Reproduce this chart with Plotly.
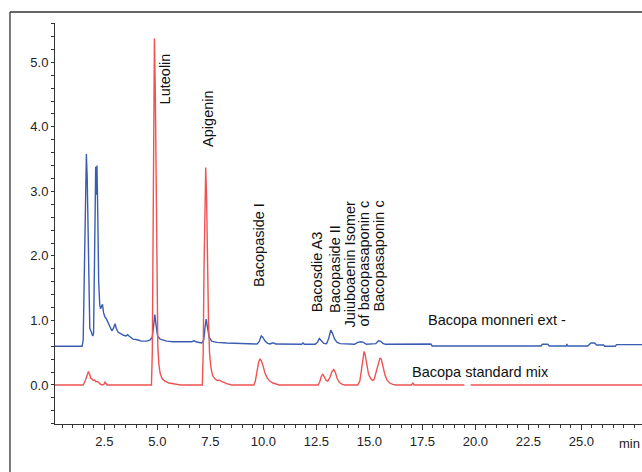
import plotly.graph_objects as go

# ---- data (time in min, signal) ----
blue_t = [0.17, 1.45, 1.50, 1.55, 1.60, 1.65, 1.69, 1.73, 1.77, 1.81, 1.86, 1.90, 1.95, 1.99,
          2.03, 2.07, 2.09, 2.12, 2.15, 2.19, 2.23, 2.28, 2.32, 2.37, 2.41, 2.46, 2.52, 2.60,
          2.68, 2.77, 2.85, 2.93, 3.00, 3.06, 3.14, 3.25, 3.40, 3.52, 3.60, 3.66, 3.75, 3.85,
          4.05, 4.25, 4.50, 4.66, 4.76, 4.83, 4.88, 4.94, 5.01, 5.13, 5.44, 5.75, 6.10, 6.45,
          6.62, 6.73, 6.85, 7.09, 7.19, 7.25, 7.30, 7.36, 7.44, 7.56, 7.80, 8.27, 8.90, 9.50,
          9.70, 9.80, 9.90, 9.97, 10.08, 10.20, 10.32, 10.42, 10.50, 10.58, 11.80, 11.87, 11.93,
          12.44, 12.55, 12.64, 12.73, 12.85, 12.98, 13.08, 13.18, 13.26, 13.36, 13.48, 13.62,
          14.30, 14.45, 14.60, 14.72, 14.86, 15.30, 15.43, 15.52, 15.64, 15.76, 17.90, 17.96,
          23.10, 23.16, 23.42, 23.48, 24.28, 24.32, 24.36, 25.30, 25.45, 25.62, 25.72, 26.05,
          26.10, 26.60, 26.66, 27.86]
blue_v = [0.60, 0.60, 0.70, 1.60, 2.90, 3.58, 3.20, 2.20, 1.20, 0.88, 0.84, 0.79, 0.76, 0.80,
          1.80, 3.20, 3.38, 2.95, 3.40, 2.60, 1.60, 1.25, 1.18, 1.22, 1.25, 1.12, 1.06, 1.02,
          0.96, 0.88, 0.84, 0.88, 0.95, 0.88, 0.82, 0.80, 0.77, 0.76, 0.78, 0.76, 0.74, 0.71,
          0.70, 0.68, 0.68, 0.70, 0.74, 0.95, 1.09, 0.92, 0.76, 0.71, 0.68, 0.67, 0.67, 0.66,
          0.67, 0.685, 0.665, 0.65, 0.70, 0.90, 1.02, 0.90, 0.74, 0.68, 0.66, 0.65, 0.64, 0.635,
          0.635, 0.67, 0.76, 0.74, 0.68, 0.645, 0.635, 0.65, 0.65, 0.635, 0.63, 0.65, 0.63,
          0.63, 0.66, 0.72, 0.69, 0.645, 0.64, 0.72, 0.85, 0.80, 0.71, 0.66, 0.64,
          0.63, 0.66, 0.67, 0.66, 0.63, 0.64, 0.685, 0.68, 0.645, 0.63, 0.635, 0.605,
          0.605, 0.63, 0.63, 0.605, 0.605, 0.625, 0.605, 0.605, 0.65, 0.65, 0.62, 0.62,
          0.60, 0.60, 0.625, 0.625]

red_t = [0.17, 1.50, 1.60, 1.68, 1.75, 1.80, 1.86, 1.92, 1.98, 2.04, 2.10, 2.18, 2.25, 2.32,
         2.42, 2.48, 2.53, 2.58, 2.63, 4.72, 4.76, 4.79, 4.82, 4.86, 4.90, 4.94, 4.98, 5.02,
         5.07, 5.13, 5.22, 5.35, 5.55, 5.90, 6.10, 7.12, 7.16, 7.20, 7.24, 7.28, 7.32, 7.36,
         7.41, 7.46, 7.52, 7.60, 7.70, 7.82, 7.92, 8.00, 8.12, 8.27, 8.50, 9.55, 9.62, 9.70,
         9.78, 9.84, 9.90, 9.98, 10.08, 10.18, 10.30, 10.45, 10.60, 10.75, 12.58, 12.66, 12.73,
         12.80, 12.87, 12.96, 13.04, 13.14, 13.24, 13.32, 13.40, 13.48, 13.58, 13.72, 13.85,
         14.45, 14.55, 14.63, 14.70, 14.75, 14.80, 14.88, 14.96, 15.06, 15.15, 15.22, 15.32,
         15.42, 15.50, 15.56, 15.65, 15.74, 15.84, 15.96, 16.10, 16.25, 16.98, 17.05, 17.12,
         19.48, 19.49, 19.78, 27.86]
red_v = [0.0, 0.0, 0.07, 0.15, 0.21, 0.17, 0.10, 0.09, 0.07, 0.075, 0.05, 0.055, 0.03, 0.01,
         0.0, 0.01, 0.045, 0.01, 0.0, 0.0, 0.5, 2.0, 4.0, 5.37, 4.6, 2.8, 1.4, 0.6,
         0.32, 0.18, 0.10, 0.06, 0.03, 0.01, 0.0, 0.0, 0.5, 1.8, 2.9, 3.37, 2.9, 1.9,
         1.0, 0.5, 0.28, 0.15, 0.10, 0.07, 0.075, 0.06, 0.04, 0.02, 0.0, 0.0, 0.06, 0.22,
         0.36, 0.40, 0.38, 0.30, 0.18, 0.11, 0.06, 0.03, 0.01, 0.0, 0.0, 0.05, 0.13,
         0.17, 0.13, 0.07, 0.06, 0.12, 0.21, 0.24, 0.19, 0.10, 0.04, 0.01, 0.0,
         0.0, 0.06, 0.25, 0.46, 0.52, 0.47, 0.30, 0.17, 0.10, 0.07, 0.08, 0.20,
         0.36, 0.42, 0.40, 0.28, 0.15, 0.07, 0.03, 0.01, 0.0, 0.0, 0.03, 0.0,
         0.0, None, 0.0, 0.0]

x_ticks = [2.5, 5.0, 7.5, 10.0, 12.5, 15.0, 17.5, 20.0, 22.5, 25.0]
y_ticks = [0.0, 1.0, 2.0, 3.0, 4.0, 5.0]

peak_labels = [
    # text, x, y, yanchor
    ("Luteolin", 5.36, 4.31, "bottom"),
    ("Apigenin", 7.39, 3.66, "bottom"),
    ("Bacopaside I", 9.80, 1.49, "bottom"),
    ("Bacosdie A3", 12.54, 1.09, "bottom"),
    ("Bacopaside II", 13.35, 1.09, "bottom"),
    ("Juiuboaenin Isomer", 14.10, 2.885, "top"),
    ("of bacopasaponin c", 14.73, 2.885, "top"),
    ("Bacopasaponin c", 15.46, 1.10, "bottom"),
]
series_labels = [
    ("Bacopa monneri ext -", 17.67, 1.0),
    ("Bacopa standard mix", 16.90, 0.20),
]

FONT = "Liberation Sans, Arial, sans-serif"
BLUE = "#3a5db2"
RED = "#f05252"

fig = go.Figure()
fig.add_trace(go.Scatter(x=blue_t, y=blue_v, mode="lines",
                         line=dict(color=BLUE, width=1.4), connectgaps=False))
fig.add_trace(go.Scatter(x=red_t, y=red_v, mode="lines",
                         line=dict(color=RED, width=1.4), connectgaps=False))

anns = []
for txt, x, y, ya in peak_labels:
    anns.append(dict(x=x, y=y, xref="x", yref="y", text=txt, showarrow=False,
                     textangle=-90, xanchor="center", yanchor=ya,
                     font=dict(family=FONT, size=14.5, color="#111")))
for txt, x, y in series_labels:
    anns.append(dict(x=x, y=y, xref="x", yref="y", text=txt, showarrow=False,
                     xanchor="left", yanchor="middle",
                     font=dict(family=FONT, size=14.5, color="#111")))
anns.append(dict(x=27.25, y=-0.025, xref="x", yref="paper", text="min", showarrow=False,
                 xanchor="center", yanchor="top",
                 font=dict(family=FONT, size=13, color="#222")))

fig.update_layout(
    width=642, height=472,
    margin=dict(l=55, r=0, t=23, b=48),
    paper_bgcolor="white", plot_bgcolor="white",
    showlegend=False,
    font=dict(family=FONT, size=13, color="#222"),
    annotations=anns,
    shapes=[
        dict(type="line", xref="paper", yref="paper", x0=-0.0767, x1=-0.0767,
             y0=1.0274, y1=-0.15, line=dict(color="#333", width=1.3)),
        dict(type="line", xref="paper", yref="paper", x0=-0.0767, x1=1.02,
             y0=1.0274, y1=1.0274, line=dict(color="#333", width=1.3)),
    ],
    xaxis=dict(range=[0.17, 27.86], showgrid=False, zeroline=False,
               showline=True, linecolor="#333", linewidth=1,
               tickmode="array", tickvals=x_ticks,
               ticktext=[f"{v:.1f}" for v in x_ticks],
               ticks="outside", ticklen=5, tickcolor="#333",
               minor=dict(dtick=0.5, tick0=0, ticks="outside", ticklen=3, tickcolor="#333"),
               tickfont=dict(family=FONT, size=13, color="#222")),
    yaxis=dict(range=[-0.605, 5.61], showgrid=False, zeroline=False,
               showline=True, linecolor="#333", linewidth=1,
               tickmode="array", tickvals=y_ticks,
               ticktext=[f"{v:.1f}" for v in y_ticks],
               ticks="outside", ticklen=3, tickcolor="#333",
               minor=dict(dtick=0.2, tick0=0, ticks="outside", ticklen=3, tickcolor="#333"),
               tickfont=dict(family=FONT, size=13, color="#222")),
)

fig.write_html("out.html", config={"displayModeBar": False},
               post_script="document.body.style.margin='0';document.body.style.overflow='hidden';")
